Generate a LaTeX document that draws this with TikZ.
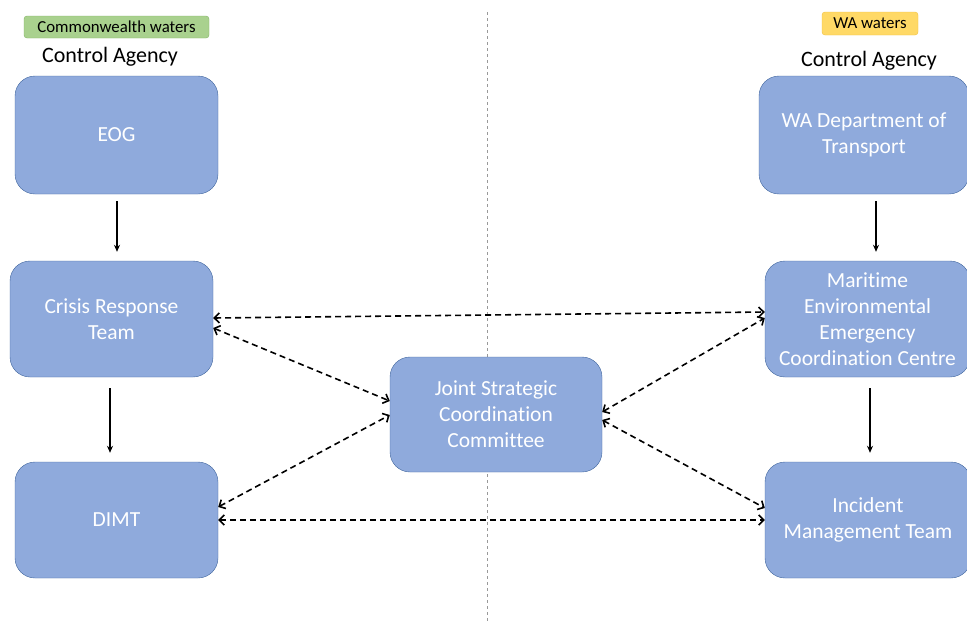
\documentclass[tikz,border=0pt]{standalone}
\usepackage{fontspec}
\setmainfont{Carlito}[Ligatures=NoCommon]
\usepackage{tikz}
\usetikzlibrary{arrows.meta}
\definecolor{boxfill}{HTML}{8FAADC}
\definecolor{boxline}{HTML}{41669E}
\definecolor{cwfill}{HTML}{A9D18E}
\definecolor{cwline}{HTML}{82B366}
\definecolor{wafill}{HTML}{FFD966}
\definecolor{waline}{HTML}{F0C040}
\begin{document}
\begin{tikzpicture}[x=1pt,y=-1pt,
    agency/.style={draw=boxline,fill=boxfill,rounded corners=20pt,align=center,
        text=white,inner sep=0pt,font=\fontsize{21.5}{26}\selectfont},
    waters/.style={draw=#1line,fill=#1fill,rounded corners=3pt,inner sep=0pt,
        font=\fontsize{16.8}{18}\selectfont},
    ctrl/.style={font=\fontsize{22}{24}\selectfont},
    flow/.style={-{Stealth[length=7pt,width=6pt]},line width=1.6pt},
    link/.style={{Straight Barb[length=5pt,width=10pt]}-{Straight Barb[length=5pt,width=10pt]},
        line width=1.6pt,dash pattern=on 6pt off 4pt}]
        \clip (0,0) rectangle (967,621);
        % Jurisdiction divide
        \draw[gray!80,dash pattern=on 3pt off 3pt](487,12)coordinate(top)--(487,621)coordinate(bot);
        % Headings
        \node[waters=cw,minimum width=185pt,minimum height=22pt](cw) at (116.5,27){Commonwealth waters};
        \node[waters=wa,minimum width=96pt,minimum height=23pt](wa) at (870,23.5){WA waters};
        \node[ctrl](ctrlL) at (110,57){Control Agency};
        \node[ctrl](ctrlR) at (869,61){Control Agency};
        % Commonwealth side
        \node[agency,minimum width=203pt,minimum height=118pt](eog) at (116.5,135){EOG};
        \node[agency,minimum width=203pt,minimum height=116pt](crt) at (111.5,319){Crisis Response\\Team};
        \node[agency,minimum width=203pt,minimum height=116pt](dimt) at (116.5,520){DIMT};
        % WA side
        \node[agency,minimum width=210pt,minimum height=118pt](dot) at (864,135){WA Department of\\Transport};
        \node[agency,minimum width=205pt,minimum height=116pt](meecc) at (867.5,319){Maritime\\Environmental\\Emergency\\Coordination Centre};
        \node[agency,minimum width=206pt,minimum height=116pt](imt) at (868,520){Incident\\Management Team};
        % Joint committee
        \node[agency,minimum width=212pt,minimum height=115pt](jscc) at (496,414.5){Joint Strategic\\Coordination\\Committee};
        % Chain of command
        \draw[flow]([xshift=0.5pt,yshift=-7pt]eog.south)--([xshift=5.5pt,yshift=9pt]crt.north);
        \draw[flow]([xshift=-1.5pt,yshift=-11pt]crt.south)--([xshift=-6.5pt,yshift=9pt]dimt.north);
        \draw[flow]([xshift=12pt,yshift=-7pt]dot.south)--([xshift=8.5pt,yshift=9pt]meecc.north);
        \draw[flow]([xshift=2.5pt,yshift=-11pt]meecc.south)--([xshift=2pt,yshift=9pt]imt.north);
        % Liaison
        \draw[link]([yshift=1pt]crt.east)--([yshift=7pt]meecc.west);
        \draw[link]([yshift=-9pt]crt.east)--([yshift=13.5pt]jscc.west);
        \draw[link]([yshift=13pt]dimt.east)--([yshift=-0.5pt]jscc.west);
        \draw[link](dimt.east)--(imt.west);
        \draw[link]([yshift=2.5pt]jscc.east)--([yshift=1pt]meecc.west);
        \draw[link]([yshift=-5.5pt]jscc.east)--([yshift=12pt]imt.west);
\end{tikzpicture}
\end{document}
